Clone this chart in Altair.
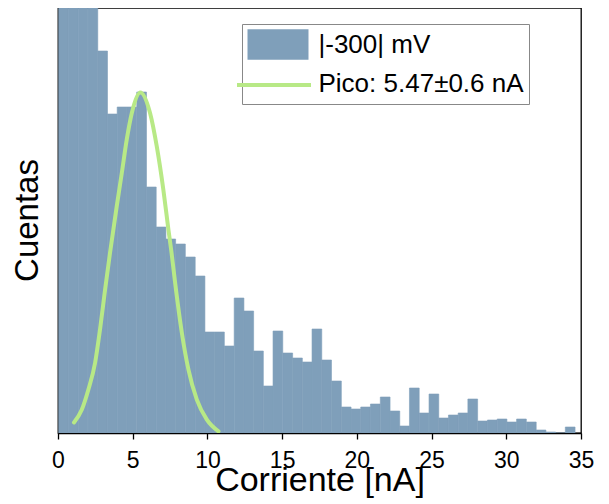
import altair as alt
import pandas as pd

# ---- data ----
series_hist = "|-300| mV"
series_fit = "Pico: 5.47±0.6 nA"

bin_start = [0.05, 0.70, 1.35, 2.01, 2.66, 3.31, 3.96, 4.61, 5.27, 5.92,
             6.57, 7.22, 7.87, 8.53, 9.18, 9.83, 10.48, 11.13, 11.79, 12.44,
             13.09, 13.74, 14.39, 15.05, 15.70, 16.35, 17.00, 17.65, 18.31, 18.96,
             19.61, 20.26, 20.91, 21.57, 22.22, 22.87, 23.52, 24.17, 24.83, 25.48,
             26.13, 26.78, 27.43, 28.09, 28.74, 29.39, 30.04, 30.69, 31.35, 32.00,
             32.65, 33.30, 33.95]
bin_width = 0.652
counts = [560, 500, 470, 445, 382, 319, 326, 326, 341, 246,
          206, 194, 189, 176, 157, 101, 101, 87, 135, 122,
          82, 47, 102, 80, 75, 71, 104, 73, 52, 26,
          24, 26, 29, 36, 22, 7, 45, 20, 39, 15,
          18, 20, 34, 12, 13, 14, 11, 14, 11, 3,
          1, 0, 6]

fit_x = [1.07, 1.59, 2.03, 2.48, 2.81, 3.15, 3.48, 3.93, 4.27, 4.60, 4.94,
         5.51, 6.16, 6.61, 7.05, 7.39, 7.60, 7.84, 8.29, 8.73, 9.29, 9.96, 10.74]
fit_y = [10.6, 23.3, 43.3, 70, 103.3, 143.3, 180, 226.6, 260, 293.3, 320,
         340.6, 320, 286.6, 243.3, 203.3, 180, 150, 100, 63.3, 33.3, 13.3, 1.6]

x_ticks = [0, 2.5, 5, 7.5, 10, 12.5, 15, 17.5, 20, 22.5, 25, 27.5, 30, 32.5, 35]

hist = pd.DataFrame({"start": bin_start, "count": counts})
hist["end"] = hist["start"] + bin_width
hist["series"] = series_hist
fit = pd.DataFrame({"x": fit_x, "y": fit_y, "series": series_fit})

FONT = "Liberation Sans"
BAR = "#7f9fba"
GREEN = "#b8e986"

xscale = alt.Scale(domain=[0, 35], nice=False, zero=False)
yscale = alt.Scale(domain=[0, 425], nice=False)

bars = alt.Chart(hist).mark_bar(clip=True, stroke=BAR, strokeWidth=0.6).encode(
    x=alt.X("start:Q", scale=xscale,
            axis=alt.Axis(title="Corriente [nA]", values=x_ticks,
                          labelExpr="datum.value % 5 == 0 ? datum.label : ''",
                          grid=False, tickSize=6, tickWidth=1.3, tickColor="black",
                          domainColor="black", domainWidth=1.3,
                          labelFontSize=23, labelPadding=10, labelFlush=False,
                          labelOverlap=False, labelColor="black", labelFont=FONT,
                          titleFont=FONT, titleFontSize=34, titleFontWeight="normal",
                          titleColor="black", titleBaseline="alphabetic", titleY=57)),
    x2="end:Q",
    y=alt.Y("count:Q", scale=yscale,
            axis=alt.Axis(title="Cuentas", labels=False, ticks=False, domain=False,
                          grid=False, titleFont=FONT, titleFontSize=33,
                          titleFontWeight="normal", titleColor="black",
                          titleBaseline="alphabetic", titleX=-21, titleY=212)),
    y2=alt.datum(0),
    fill=alt.Fill("series:N",
                  scale=alt.Scale(domain=[series_hist, series_fit], range=[BAR, "transparent"]),
                  legend=alt.Legend(title=None, orient="none", legendX=184, legendY=16,
                                    symbolType="M-2,-1H2V1H-2Z", symbolSize=930,
                                    symbolStrokeWidth=0, symbolOffset=15.5,
                                    labelFont=FONT, labelFontSize=26, labelColor="black",
                                    labelOffset=25, labelLimit=0, rowPadding=8, padding=5,
                                    strokeColor="#888888", fillColor="white")),
)

line = alt.Chart(fit).mark_line(clip=True, strokeWidth=4, interpolate="monotone",
                                strokeCap="round").encode(
    x="x:Q",
    y="y:Q",
    stroke=alt.Stroke("series:N",
                      scale=alt.Scale(domain=[series_fit], range=[GREEN]),
                      legend=alt.Legend(title=None, orient="none", legendX=177, legendY=38,
                                        symbolType="stroke", symbolSize=5476,
                                        symbolStrokeWidth=4, labelExpr="''",
                                        padding=0)),
)

chart = alt.layer(bars, line).properties(
    width=523, height=425,
    padding={"left": 50, "top": 0, "right": 20, "bottom": 67},
    autosize="none",
).configure_view(stroke="black", strokeWidth=1.3)

chart.save("out.html", embed_options={"renderer": "svg", "actions": False})
